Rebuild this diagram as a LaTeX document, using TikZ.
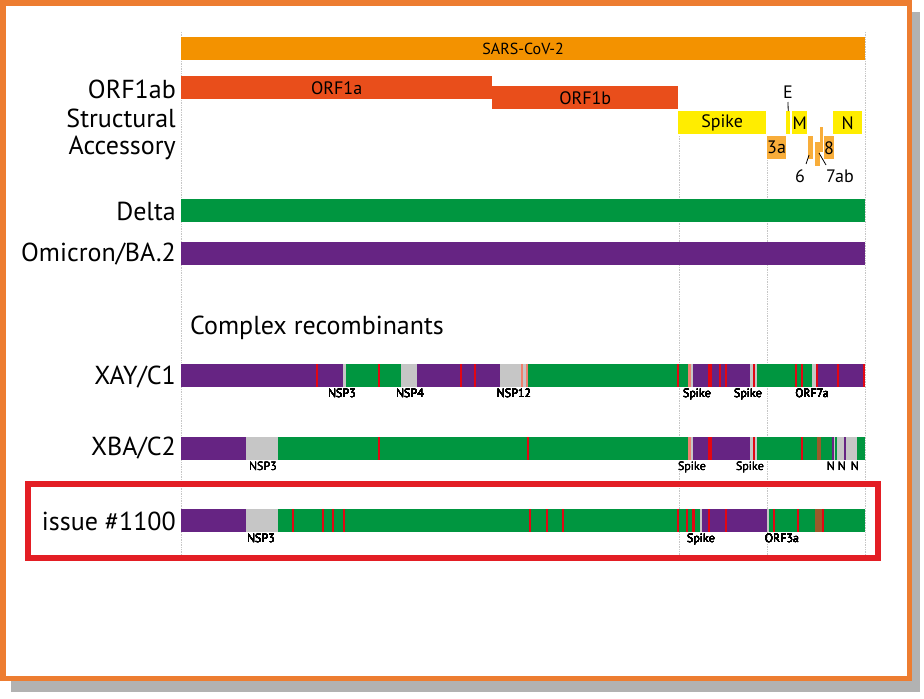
\documentclass[tikz,border=0pt]{standalone}
\usepackage{fontspec}
\setmainfont{PT Sans}
\usepackage{xcolor}
\usepackage{tikz}
\definecolor{framecolor}{HTML}{ED7D31}
\definecolor{boxcolor}{HTML}{E31E24}
\definecolor{sarscolor}{HTML}{F39200}
\definecolor{orfcolor}{HTML}{E94E1B}
\definecolor{structcolor}{HTML}{FFED00}
\definecolor{accesscolor}{HTML}{F8AD3A}
\definecolor{deltacolor}{HTML}{009640}
\definecolor{omicroncolor}{HTML}{662483}
\definecolor{gapcolor}{HTML}{C6C6C6}
\definecolor{mutred}{HTML}{E30613}
\definecolor{mutsalmon}{HTML}{F0806E}
\definecolor{mutbrown}{HTML}{9B5A2A}
\newcommand{\seg}[3]{\fill[#1] (#2,0) rectangle (#3,23);}
\newcommand{\mut}[2][mutred]{\fill[#1] ({#2-0.75},0) rectangle ({#2+0.75},23);}
\tikzset{
  bar/.style={fill=#1, inner sep=0pt, minimum height=23pt, anchor=north west,
    font=\fontsize{18}{20}\selectfont},
  rowlabel/.style={anchor=east, inner sep=0pt, font=\fontsize{26}{28}\selectfont},
  genelabel/.style={font=\fontsize{18}{20}\selectfont, inner sep=1pt},
  regionlabel/.style={anchor=north, inner sep=0pt, font=\fontsize{12}{14}\selectfont},
  guide/.style={gray!45, densely dotted, line width=0.7pt},
  leader/.style={line width=0.8pt},
}

\begin{document}
\begin{tikzpicture}[x=1pt, y=-1pt]

    \useasboundingbox (0,0) rectangle (924,699);

    % Frame with shadow
    \fill[gray!60] (11,12) rectangle (920,692);
    \draw[framecolor, line width=5.5pt, fill=white] (2.75,2.75) rectangle (909.25,678.25);

    % Guides
    \foreach \gx/\gy in {181/32, 679/136, 767/136, 865/32}
        \draw[guide] (\gx,\gy) -- (\gx,556);

    % Genome
    \node[bar=sarscolor, minimum width=684pt, font=\fontsize{16}{18}\selectfont] (sars) at (181,37) {SARS-CoV-2};
    \node[bar=orfcolor, minimum width=311pt] (orf1a) at (181,76) {ORF1a};
    \node[bar=orfcolor, minimum width=186pt] (orf1b) at (492,86) {ORF1b};

    % Structural genes
    \node[bar=structcolor, minimum width=88pt] (spike) at (678,111) {Spike};
    \node[bar=structcolor, minimum width=4pt] (geneE) at (786,111) {};
    \node[bar=structcolor, minimum width=15pt] (geneM) at (792,111) {M};
    \node[bar=structcolor, minimum width=29pt] (geneN) at (833,111) {N};

    % Accessory genes
    \node[bar=accesscolor, minimum width=16pt] (gene3a) at (767,136) {3a};
    \node[bar=accesscolor, minimum width=5pt] (gene6) at (808,136) {};
    \node[bar=accesscolor, minimum width=5pt, minimum height=24pt] (gene7a) at (815,142) {};
    \node[bar=accesscolor, minimum width=3pt, minimum height=25pt] (gene7b) at (820,127) {};
    \node[bar=accesscolor, minimum width=9pt] (gene8) at (824,136) {8};

    \node[genelabel] (labE) at (788,92) {E};
    \node[genelabel] (lab6) at (800,176) {6};
    \node[genelabel] (lab7ab) at (840,176) {7ab};
    \coordinate (p6) at (809,155);
    \coordinate (p7) at (819,153);
    \draw[leader] (788,102) -- (geneE.north);
    \draw[leader] (806,164) -- (p6);
    \draw[leader] (826,165) -- (p7);

    % Row labels
    \node[rowlabel] (lorf) at (176,89) {ORF1ab};
    \node[rowlabel] (lstruct) at (176,118) {Structural};
    \node[rowlabel] (lacc) at (176,148) {Accessory};
    \node[rowlabel] (ldelta) at (176,211) {Delta};
    \node[rowlabel] (lomicron) at (176,254) {Omicron/BA.2};
    \node[anchor=west, inner sep=0pt, font=\fontsize{26}{28}\selectfont] (complex) at (190,328) {Complex recombinants};
    \node[rowlabel] (lxay) at (176,377) {XAY/C1};
    \node[rowlabel] (lxba) at (176,448) {XBA/C2};
    \node[rowlabel] (lissue) at (176,521) {issue \#1100};

    % Parent lineages
    \node[bar=deltacolor, minimum width=684pt] (delta) at (181,199) {};
    \node[bar=omicroncolor, minimum width=684pt] (omicron) at (181,242) {};

    % XAY/C1
    \begin{scope}[shift={(0,364)}]
        \seg{omicroncolor}{181}{343}
        \seg{gapcolor}{343}{346}
        \seg{deltacolor}{346}{401}
        \seg{gapcolor}{401}{417}
        \seg{omicroncolor}{417}{500}
        \seg{gapcolor}{500}{528}
        \seg{mutsalmon}{521}{523}
        \seg{mutsalmon}{526}{528}
        \seg{deltacolor}{528}{688}
        \seg{mutsalmon}{688}{691}
        \seg{gapcolor}{691}{693}
        \seg{omicroncolor}{693}{750}
        \seg{gapcolor}{750}{757}
        \seg{deltacolor}{757}{812}
        \seg{gapcolor}{812}{816}
        \seg{omicroncolor}{816}{865}
        \seg{mutred}{708}{712}
        \foreach \m in {317, 379, 461, 475, 678, 720, 726, 754, 796, 802, 817, 838, 864.2}
            \mut{\m}
        \foreach \nm/\nx in {NSP3/342, NSP4/410, NSP12/514, Spike/697, Spike/748, ORF7a/812}
            \node[regionlabel] at (\nx,25) {\nm};
    \end{scope}

    % XBA/C2
    \begin{scope}[shift={(0,437)}]
        \seg{omicroncolor}{181}{246}
        \seg{gapcolor}{246}{278}
        \seg{deltacolor}{278}{688}
        \seg{mutsalmon}{688}{691}
        \seg{gapcolor}{691}{693}
        \seg{omicroncolor}{693}{750}
        \seg{gapcolor}{750}{757}
        \seg{deltacolor}{757}{832}
        \seg{omicroncolor}{832}{833.5}
        \seg{gapcolor}{833.5}{835}
        \seg{deltacolor}{835}{837}
        \seg{gapcolor}{837}{844}
        \seg{omicroncolor}{844}{846}
        \seg{gapcolor}{846}{857}
        \seg{deltacolor}{857}{865}
        \seg{mutred}{708}{712}
        \seg{mutbrown}{817}{821}
        \foreach \m in {379, 528, 754, 802}
            \mut{\m}
        \foreach \nm/\nx in {NSP3/263, Spike/692, Spike/750, N/831, N/842, N/855}
            \node[regionlabel] at (\nx,25) {\nm};
    \end{scope}

    % issue #1100
    \begin{scope}[shift={(0,509)}]
        \seg{omicroncolor}{181}{246}
        \seg{gapcolor}{246}{278}
        \seg{deltacolor}{278}{700}
        \seg{gapcolor}{700}{702}
        \seg{omicroncolor}{702}{767}
        \seg{gapcolor}{767}{769}
        \seg{deltacolor}{769}{865}
        \seg{mutred}{692}{694.5}
        \seg{mutbrown}{815}{822}
        \foreach \m in {293, 323, 333, 344, 530, 547, 563, 678, 687, 709, 726, 774, 798, 823}
            \mut{\m}
        \foreach \nm/\nx in {NSP3/261, Spike/701, ORF3a/782}
            \node[regionlabel] at (\nx,25) {\nm};
    \end{scope}

    % Highlight box
    \draw[boxcolor, line width=5.5pt] (28,484) rectangle (878,558);

\end{tikzpicture}
\end{document}
